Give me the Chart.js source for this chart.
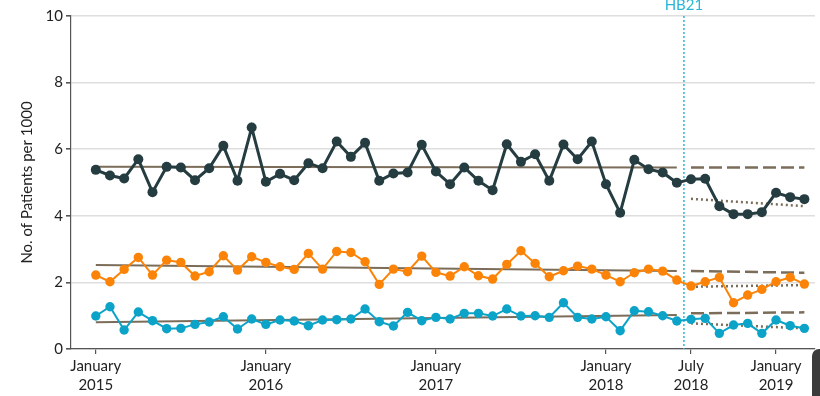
<!DOCTYPE html>
<html>
<head>
<meta charset="utf-8">
<script src="https://cdn.jsdelivr.net/npm/chart.js@4"></script>
<style>
html,body{margin:0;padding:0;background:#fff;overflow:hidden;}
#wrap{position:relative;width:820px;height:396px;}
#corner{position:absolute;left:812px;top:349px;width:12px;height:50px;background:#3b3b3b;border-top-left-radius:7px;}
</style>
</head>
<body>
<div id="wrap"><canvas id="c" width="820" height="396"></canvas><div id="corner"></div></div>
<script>
// Months Jan 2015 .. Mar 2019 (index 0..50)
const months = [];
for (let y = 2015; y <= 2019; y++) for (let m = 1; m <= 12; m++) if (!(y === 2019 && m > 3)) months.push(y + '-' + m);

const darkSeries = [5.38,5.21,5.12,5.70,4.71,5.47,5.45,5.07,5.43,6.10,5.05,6.65,
  5.02,5.26,5.07,5.58,5.43,6.23,5.77,6.19,5.05,5.27,5.30,6.13,
  5.33,4.95,5.45,5.05,4.77,6.15,5.62,5.85,5.05,6.14,5.70,6.23,
  4.95,4.09,5.68,5.40,5.30,4.99,5.10,5.11,4.29,4.05,4.05,4.11,
  4.69,4.56,4.50];
const orangeSeries = [2.22,2.02,2.39,2.75,2.22,2.67,2.60,2.19,2.32,2.80,2.37,2.77,
  2.60,2.47,2.39,2.87,2.40,2.93,2.90,2.62,1.94,2.40,2.32,2.79,
  2.30,2.19,2.47,2.20,2.10,2.54,2.95,2.57,2.17,2.35,2.49,2.40,
  2.22,2.02,2.29,2.40,2.34,2.07,1.89,2.02,2.15,1.39,1.62,1.79,
  2.02,2.15,1.95];
const blueSeries = [0.99,1.27,0.57,1.11,0.85,0.61,0.62,0.74,0.81,0.97,0.60,0.90,
  0.74,0.87,0.84,0.70,0.87,0.88,0.90,1.20,0.82,0.69,1.10,0.85,
  0.95,0.90,1.07,1.07,0.99,1.20,0.99,1.00,0.95,1.39,0.95,0.90,
  0.97,0.55,1.15,1.12,1.00,0.84,0.89,0.92,0.47,0.72,0.77,0.47,
  0.87,0.70,0.62];

// Trend segments: [startIndex, startValue, endIndex, endValue]
const darkPre = [0,5.47,41,5.45];
const darkProj = [42,5.45,50,5.45];
const darkPost = [42,4.51,50,4.29];
const orangePre = [0,2.52,41,2.34];
const orangeProj = [42,2.34,50,2.29];
const orangePost = [42,1.87,50,1.92];
const bluePre = [0,0.80,41,1.02];
const blueProj = [42,1.07,50,1.10];
const bluePost = [42,0.77,50,0.62];

const tickIdx = [0,12,24,36,42,48];
const tickText = [["January","2015"],["January","2016"],["January","2017"],["January","2018"],["July","2018"],["January","2019"]];
const interventionIdx = 41.5;
const interventionLabel = "HB21";
const yTitle = "No. of Patients per 1000";

const C_DARK = '#253c41', C_OR = '#fb8408', C_BL = '#0ca3c9', C_TR = '#7b6d59', C_HB = '#2bb6d9';
const FONT = 'Lato';

const pts = arr => arr.map((v, i) => ({x: i, y: v}));
const seg = s => [{x: s[0], y: s[1]}, {x: s[2], y: s[3]}];

function series(arr, color, bw, r) {
  return {data: pts(arr), borderColor: color, backgroundColor: color, borderWidth: bw,
    pointRadius: r, pointBackgroundColor: color, pointBorderWidth: 0, pointHoverRadius: r,
    tension: 0, order: 1};
}
function trend(s, style) {
  const d = {data: seg(s), borderColor: C_TR, borderWidth: 2, pointRadius: 0, order: 5, tension: 0};
  if (style === 'dash') { d.borderDash = [13, 5]; d.borderWidth = 2.5; }
  if (style === 'dot') { d.borderDash = [2, 3]; d.borderWidth = 2.5; }
  return d;
}

const hbPlugin = {
  id: 'hb',
  beforeDatasetsDraw(chart) {
    const ctx = chart.ctx, xs = chart.scales.x, a = chart.chartArea;
    const px = xs.getPixelForValue(interventionIdx);
    ctx.save();
    ctx.strokeStyle = C_HB; ctx.lineWidth = 1.5; ctx.setLineDash([2, 2]);
    ctx.beginPath(); ctx.moveTo(px, a.top); ctx.lineTo(px, a.bottom); ctx.stroke();
    ctx.restore();
  },
  afterDraw(chart) {
    const ctx = chart.ctx, xs = chart.scales.x;
    const px = xs.getPixelForValue(interventionIdx);
    ctx.save();
    ctx.fillStyle = C_HB; ctx.font = '15px ' + FONT; ctx.textAlign = 'center'; ctx.textBaseline = 'alphabetic';
    ctx.fillText(interventionLabel, px, 10);
    ctx.restore();
  }
};

new Chart(document.getElementById('c'), {
  type: 'line',
  data: {
    datasets: [
      series(darkSeries, C_DARK, 3, 5),
      series(orangeSeries, C_OR, 2, 4.7),
      series(blueSeries, C_BL, 2, 4.7),
      trend(darkPre), trend(darkProj, 'dash'), trend(darkPost, 'dot'),
      trend(orangePre), trend(orangeProj, 'dash'), trend(orangePost, 'dot'),
      trend(bluePre), trend(blueProj, 'dash'), trend(bluePost, 'dot')
    ]
  },
  options: {
    responsive: false,
    animation: false,
    events: [],
    layout: {padding: {top: 16, right: 0, bottom: 0, left: 0}},
    plugins: {legend: {display: false}, tooltip: {enabled: false}},
    scales: {
      x: {
        type: 'linear', min: -1.75, max: 50.75,
        afterBuildTicks: s => { s.ticks = tickIdx.map(v => ({value: v})); },
        afterFit: s => { s.height = 47; },
        grid: {drawOnChartArea: false, tickColor: '#555', tickLength: 5, lineWidth: 1.2},
        border: {color: '#555', width: 1.2},
        ticks: {
          autoSkip: false, maxRotation: 0, padding: 3, color: '#222',
          font: {family: FONT, size: 15, lineHeight: 1.25},
          callback: v => { const k = tickIdx.indexOf(v); return k >= 0 ? tickText[k] : ''; }
        }
      },
      y: {
        min: 0, max: 10,
        afterFit: s => { s.width = 71; },
        grid: {color: '#dedede', lineWidth: 1.6, tickColor: '#555', tickLength: 5},
        border: {color: '#555', width: 1.2},
        ticks: {stepSize: 2, padding: 3, color: '#222', font: {family: FONT, size: 15}},
        title: {display: true, text: yTitle, color: '#222', font: {family: FONT, size: 15}, padding: {top: 18, bottom: 0}}
      }
    }
  },
  plugins: [hbPlugin]
});
</script>
</body>
</html>
